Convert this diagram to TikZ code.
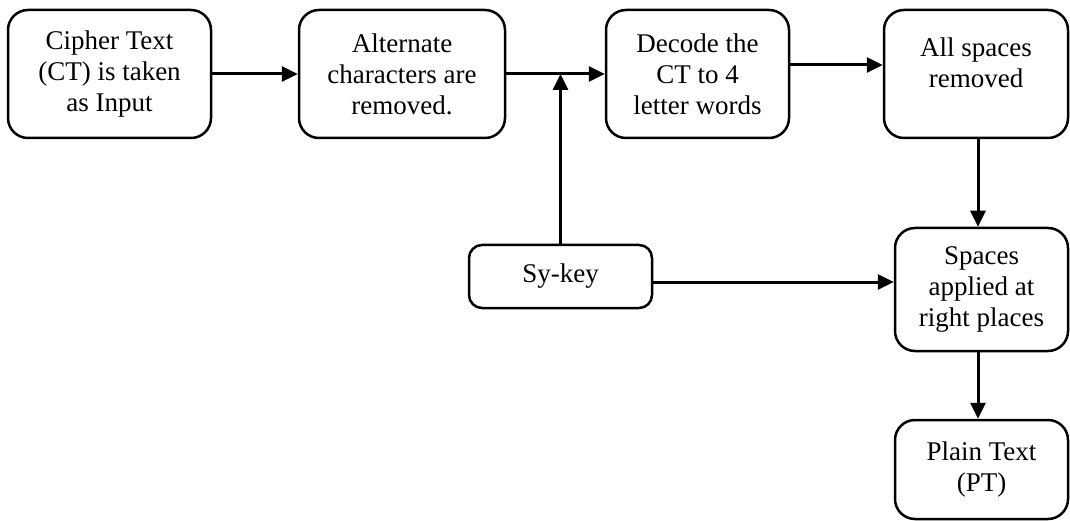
\documentclass[tikz,border=0pt]{standalone}
\usepackage{fontspec}
\setmainfont{Liberation Serif}
\usetikzlibrary{positioning,arrows.meta,calc}

\begin{document}
\begin{tikzpicture}[x=1pt,y=-1pt,
   box/.style={draw,line width=2.5pt,rounded corners=20pt,align=center,inner sep=0pt,
     font=\fontsize{27}{31}\selectfont},
   arr/.style={line width=3pt,-{Triangle[length=16pt,width=15pt]}}]
   \useasboundingbox (0,0) rectangle (1070,521);
   \node[box,minimum width=203pt,minimum height=128pt] (ct) at (109.5,74) {Cipher Text\\(CT) is taken\\as Input};
   \node[box,minimum width=206pt,minimum height=128pt] (alt) at (402,74) {Alternate\\characters are\\removed.};
   \node[box,minimum width=183pt,minimum height=128pt] (dec) at (697.5,74) {Decode the\\CT to 4\\letter words};
   \node[box,minimum width=184pt,minimum height=128pt] (rem) at (976,74) {All spaces\\removed\\[-9pt]\mbox{}};
   \node[box,rounded corners=13pt,minimum width=183pt,minimum height=63pt] (key) at (560.5,276.5) {Sy-key};
   \node[box,minimum width=173pt,minimum height=123pt] (app) at (981.5,289.5) {Spaces\\applied at\\right places};
   \node[box,minimum width=173pt,minimum height=99pt] (pt) at (981.5,469.5) {Plain Text\\(PT)};
   \draw[arr] (ct) -- (alt); % CT to alternate
   \draw[arr] (alt) -- (dec); % alternate to decode
   \draw[arr] ([yshift=9pt]dec.east) -- ([yshift=9pt]rem.west); % decode to removed
   \draw[arr] (key.north) -- (key.north |- alt.east); % key up
   \draw[arr] ([xshift=2pt]rem.south) -- ([xshift=2pt]rem.south |- app.north); % removed to applied
   \draw[arr] ([yshift=-5.5pt]key.east) -- ([yshift=-5.5pt]key.east -| app.west); % key to applied
   \draw[arr] ([xshift=2pt]rem.south |- app.south) -- ([xshift=2pt]rem.south |- pt.north); % applied to PT
\end{tikzpicture}
\end{document}
